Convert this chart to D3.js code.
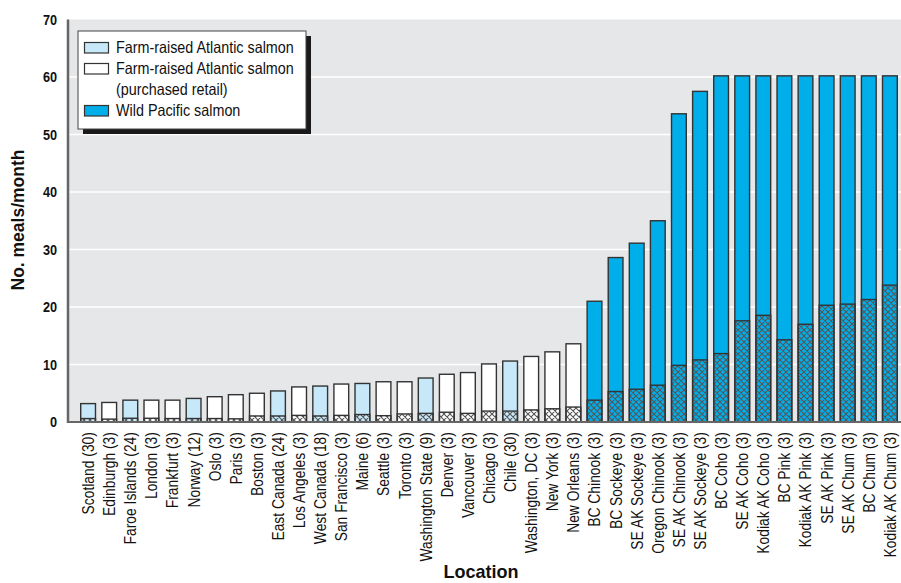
<!DOCTYPE html>
<html><head><meta charset="utf-8">
<script src="https://cdn.jsdelivr.net/npm/d3@7"></script>
<style>
html,body{margin:0;padding:0;background:#fff;}
svg{display:block;}
text{font-family:"Liberation Sans",Arial,sans-serif;}
</style></head>
<body>
<svg id="chart" width="901" height="583"></svg>
<script>
const categories = ["Scotland (30)","Edinburgh (3)","Faroe Islands (24)","London (3)","Frankfurt (3)","Norway (12)","Oslo (3)","Paris (3)","Boston (3)","East Canada (24)","Los Angeles (3)","West Canada (18)","San Francisco (3)","Maine (6)","Seattle (3)","Toronto (3)","Washington State (9)","Denver (3)","Vancouver (3)","Chicago (3)","Chile (30)","Washington, DC (3)","New York (3)","New Orleans (3)","BC Chinook (3)","BC Sockeye (3)","SE AK Sockeye (3)","Oregon Chinook (3)","SE AK Chinook (3)","SE AK Sockeye (3)","BC Coho (3)","SE AK Coho (3)","Kodiak AK Coho (3)","BC Pink (3)","Kodiak AK Pink (3)","SE AK Pink (3)","SE AK Chum (3)","BC Chum (3)","Kodiak AK Chum (3)"];
// salmon type: farm = farm-raised Atlantic, retail = farm-raised purchased retail, wild = wild Pacific
const types = ["farm","retail","farm","retail","retail","farm","retail","retail","retail","farm","retail","farm","retail","farm","retail","retail","farm","retail","retail","retail","farm","retail","retail","retail","wild","wild","wild","wild","wild","wild","wild","wild","wild","wild","wild","wild","wild","wild","wild"];
// total meals/month
const totals = [3.2,3.4,3.8,3.8,3.8,4.1,4.4,4.75,5.0,5.4,6.1,6.25,6.6,6.7,7.0,7.0,7.65,8.3,8.6,10.1,10.6,11.4,12.2,13.6,21.0,28.6,31.1,35.0,53.6,57.5,60.2,60.2,60.2,60.2,60.2,60.2,60.2,60.2,60.2];
// hatched lower portion
const hatched = [0.6,0.5,0.65,0.65,0.6,0.6,0.6,0.55,1.05,1.05,1.15,1.05,1.15,1.3,1.1,1.4,1.5,1.7,1.5,1.9,1.9,2.1,2.3,2.6,3.8,5.3,5.7,6.4,9.85,10.8,11.9,17.6,18.55,14.3,17.0,20.3,20.5,21.3,23.8];
const yTicks = [0,10,20,30,40,50,60,70];
const legendItems = [
  {type:"farm", lines:["Farm-raised Atlantic salmon"]},
  {type:"retail", lines:["Farm-raised Atlantic salmon","(purchased retail)"]},
  {type:"wild", lines:["Wild Pacific salmon"]}
];
const colors = {farm:"#c6e8f8", retail:"#ffffff", wild:"#00aeea"};

const svg = d3.select("#chart");
const idx = d3.range(categories.length);
const x = d3.scaleBand().domain(idx).range([67,911]).paddingInner(0.3).paddingOuter(0.65);
const y = d3.scaleLinear().domain([0,70]).range([422,19.5]);

const defs = svg.append("defs");
const pat = defs.append("pattern").attr("id","hatch").attr("patternUnits","userSpaceOnUse")
  .attr("width",6).attr("height",6);
pat.append("path").attr("d","M0,0L6,6M6,0L0,6M-1,5L1,7M5,-1L7,1M-1,1L1,-1M5,7L7,5")
  .attr("stroke","#555").attr("stroke-width",1.1).attr("fill","none");

// plot background
svg.append("rect").attr("x",68).attr("y",y(70)).attr("width",901-68).attr("height",y(0)-y(70)).attr("fill","#e6e7e9");
// gridlines
svg.append("g").selectAll("line").data(yTicks.filter(d=>d>0&&d<70)).join("line")
  .attr("x1",68).attr("x2",901).attr("y1",d=>y(d)).attr("y2",d=>y(d))
  .attr("stroke","#fff").attr("stroke-width",1.5);

// bars
const g = svg.append("g");
idx.forEach(i=>{
  const bx = x(i), bw = x.bandwidth();
  g.append("rect").attr("x",bx).attr("y",y(totals[i])).attr("width",bw).attr("height",y(0)-y(totals[i]))
    .attr("fill",colors[types[i]]).attr("stroke","#333").attr("stroke-width",1.4);
  g.append("rect").attr("x",bx).attr("y",y(hatched[i])).attr("width",bw).attr("height",y(0)-y(hatched[i]))
    .attr("fill","url(#hatch)").attr("stroke","#333").attr("stroke-width",1.4);
});

// axes lines
svg.append("line").attr("x1",68).attr("x2",68).attr("y1",y(70)).attr("y2",y(0)+1).attr("stroke","#666").attr("stroke-width",2.5);
svg.append("line").attr("x1",67).attr("x2",901).attr("y1",y(0)).attr("y2",y(0)).attr("stroke","#666").attr("stroke-width",2);

// y tick labels
const yAxis = d3.axisLeft(y).tickValues(yTicks).tickSize(0);
const ya = svg.append("g").attr("transform","translate(57,0)").call(yAxis);
ya.select(".domain").remove();
ya.selectAll(".tick text").attr("x",0).attr("font-size",15.5).attr("fill","#111").attr("font-weight","bold")
  .attr("transform","scale(0.82,1)");

// x tick labels
const xAxis = d3.axisBottom(x).tickSize(0).tickFormat(i=>categories[i]);
const xa = svg.append("g").attr("transform","translate(0,"+y(0)+")").call(xAxis);
xa.select(".domain").remove();
xa.selectAll(".tick text").attr("font-size",16.5).attr("fill","#111")
  .attr("transform","rotate(-90) scale(0.84,1)").attr("text-anchor","end")
  .attr("x",-12).attr("y",0).attr("dy","0.36em");

// axis titles
svg.append("text").attr("transform","translate(24,220) rotate(-90)").attr("text-anchor","middle")
  .attr("font-size",17.5).attr("font-weight","bold").attr("fill","#111").text("No. meals/month");
svg.append("text").attr("transform","translate(481,578) scale(0.95,1)").attr("text-anchor","middle")
  .attr("font-size",19).attr("font-weight","bold").attr("fill","#111").text("Location");

// legend
const lg = svg.append("g");
lg.append("rect").attr("x",83).attr("y",36).attr("width",228).attr("height",98).attr("fill","#1a1a1a");
lg.append("rect").attr("x",78).attr("y",31).attr("width",228).attr("height",98).attr("fill","#fff").attr("stroke","#444").attr("stroke-width",1);
let ly = 53;
legendItems.forEach(it=>{
  lg.append("rect").attr("x",84.5).attr("y",ly-10.5).attr("width",24).attr("height",10.5)
    .attr("fill",colors[it.type]).attr("stroke","#333").attr("stroke-width",1.2);
  it.lines.forEach(t=>{
    lg.append("text").attr("transform","translate(116,"+ly+") scale(0.87,1)").attr("font-size",16.5).attr("fill","#111").text(t);
    ly += 21;
  });
});
</script>
</body></html>
